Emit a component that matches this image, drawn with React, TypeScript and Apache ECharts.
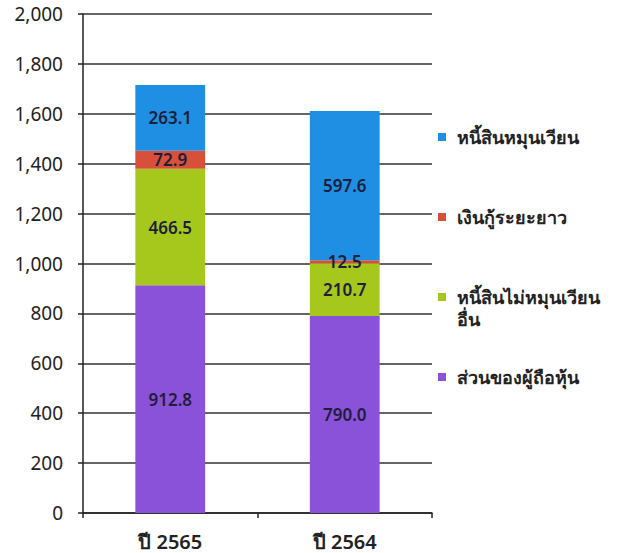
import React, { useEffect, useRef } from "react";
import * as echarts from "echarts";

const categories = ["ปี 2565", "ปี 2564"];
const seriesNames = [
  "ส่วนของผู้ถือหุ้น",
  "หนี้สินไม่หมุนเวียนอื่น",
  "เงินกู้ระยะยาว",
  "หนี้สินหมุนเวียน",
];
const equity = [912.8, 790.0];
const otherNonCurrent = [466.5, 210.7];
const longTermLoan = [72.9, 12.5];
const currentLiabilities = [263.1, 597.6];
const seriesColors = ["#8a52d8", "#a6c81c", "#d8503a", "#1e8fe2"];
const legendOrder = [
  "หนี้สินหมุนเวียน",
  "เงินกู้ระยะยาว",
  "หนี้สินไม่หมุนเวียนอื่น",
  "ส่วนของผู้ถือหุ้น",
];
const yMin = 0;
const yMax = 2000;
const yInterval = 200;

const FONT = "'Noto Sans', 'DejaVu Sans', sans-serif";

export default function App() {
  const ref = useRef<HTMLDivElement>(null);
  useEffect(() => {
    if (!ref.current) return;
    const chart = echarts.init(ref.current, null, { renderer: "svg" });
    const values = [equity, otherNonCurrent, longTermLoan, currentLiabilities];
    chart.setOption({
      animation: false,
      backgroundColor: "#ffffff",
      textStyle: { fontFamily: FONT },
      grid: {
        left: 83,
        right: 204,
        top: 14,
        bottom: 40,
        containLabel: false,
        outerBoundsMode: "none",
      },
      legend: {
        orient: "vertical",
        left: 438,
        top: 104,
        padding: 0,
        itemWidth: 8,
        itemHeight: 8,
        itemGap: 14,
        icon: "rect",
        data: legendOrder,
        formatter: (name: string) =>
          name === "หนี้สินไม่หมุนเวียนอื่น"
            ? "\nหนี้สินไม่หมุนเวียน\nอื่น"
            : "\n" + name + "\n",
        textStyle: {
          fontFamily: FONT,
          fontSize: 18,
          fontWeight: "bold",
          color: "#222222",
          lineHeight: 22,
          padding: [0, 0, 0, 6],
        },
      },
      xAxis: {
        type: "category",
        data: categories,
        axisLine: { show: true, lineStyle: { color: "#222222", width: 1.5 } },
        axisTick: { show: true, length: 5, lineStyle: { color: "#222222", width: 1.5 } },
        axisLabel: {
          fontFamily: FONT,
          fontSize: 20,
          fontWeight: 600,
          color: "#222222",
          margin: 18,
        },
      },
      yAxis: {
        type: "value",
        min: yMin,
        max: yMax,
        interval: yInterval,
        axisLine: { show: true, lineStyle: { color: "#222222", width: 1.5 } },
        axisTick: { show: true, length: 5, lineStyle: { color: "#222222", width: 1.5 } },
        splitLine: { show: true, lineStyle: { color: "#333333", width: 1.5 } },
        axisLabel: {
          fontFamily: FONT,
          fontSize: 19,
          color: "#222222",
          margin: 20,
          formatter: (v: number) => v.toLocaleString("en-US"),
        },
      },
      series: seriesNames.map((name, i) => ({
        name,
        type: "bar",
        stack: "total",
        barWidth: "40%",
        data: values[i],
        itemStyle: { color: seriesColors[i] },
        label: {
          show: true,
          position: "inside",
          fontFamily: FONT,
          fontSize: 17,
          fontWeight: 600,
          color: "#1e1e3c",
          formatter: (p: any) => Number(p.value).toFixed(1),
        },
      })),
    });
    return () => chart.dispose();
  }, []);
  return (
    <div
      ref={ref}
      style={{ position: "fixed", left: 0, top: 0, width: 636, height: 553 }}
    />
  );
}
